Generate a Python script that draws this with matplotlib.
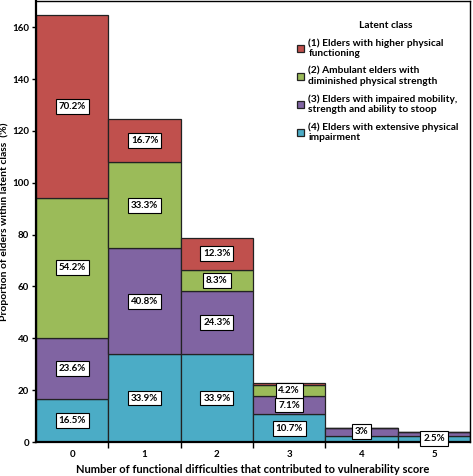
import numpy as np
import matplotlib
matplotlib.use('Agg')
from matplotlib import pyplot as plt

plt.rcParams['font.family'] = ['Lato', 'DejaVu Sans']
plt.rcParams['font.weight'] = 'bold'

cats = ['0', '1', '2', '3', '4', '5']
# latent class shares per number of difficulties (stack order: bottom -> top)
class4 = [16.5, 33.9, 33.9, 10.7, 2.5, 2.5]
class3 = [23.6, 40.8, 24.3, 7.1, 3.0, 1.2]
class2 = [54.2, 33.3, 8.3, 4.2, 0.0, 0.0]
class1 = [70.2, 16.7, 12.3, 0.8, 0.0, 0.0]

# which segments carry a value box
lab4 = ['16.5%', '33.9%', '33.9%', '10.7%', '', '2.5%']
lab3 = ['23.6%', '40.8%', '24.3%', '7.1%', '3%', '']
lab2 = ['54.2%', '33.3%', '8.3%', '4.2%', '', '']
lab1 = ['70.2%', '16.7%', '12.3%', '', '', '']

names = ['(1) Elders with higher physical\nfunctioning',
         '(2) Ambulant elders with\ndiminished physical strength',
         '(3) Elders with impaired mobility,\nstrength and ability to stoop',
         '(4) Elders with extensive physical\nimpairment']
colors = ['#C0504D', '#9BBB59', '#8064A2', '#4BACC6']

fig = plt.figure(figsize=(4.73, 4.76), dpi=100)
ax = fig.add_axes([0.076, 0.0714, 0.918, 0.926])

x = np.arange(len(cats))
series = [class4, class3, class2, class1]
labels = [lab4, lab3, lab2, lab1]
cols = colors[::-1]
nms = names[::-1]
bottom = np.zeros(len(cats))
handles = []
for vals, labs, c, nm in zip(series, labels, cols, nms):
    vals = np.array(vals)
    b = ax.bar(x, vals, 1.0, bottom=bottom, color=c, edgecolor='#222222', linewidth=0.9, label=nm)
    handles.append(b)
    for i in range(len(cats)):
        if labs[i]:
            ax.text(x[i], bottom[i] + vals[i] / 2, labs[i], ha='center', va='center', fontsize=7,
                    fontweight='bold',
                    bbox=dict(boxstyle='square,pad=0.3', fc='white', ec='black', lw=0.8))
    bottom = bottom + vals

ax.set_xlim(-0.5, 5.5)
ax.set_ylim(0, 170)
ax.set_yticks(np.arange(0, 161, 20))
ax.set_xticks(np.arange(0.5, 5.5, 1.0))
ax.set_xticklabels([])
ax.set_xticks(x, minor=True)
ax.set_xticklabels(cats, minor=True)
ax.tick_params(axis='x', which='major', length=4, width=1)
ax.tick_params(axis='x', which='minor', length=0, pad=6, labelsize=7)
ax.tick_params(axis='y', length=3, width=1, labelsize=7, pad=2)
for lb in ax.get_xticklabels(minor=True) + ax.get_yticklabels():
    lb.set_fontweight('bold')

ax.spines['left'].set_linewidth(1.6)
ax.spines['bottom'].set_linewidth(1.6)
ax.spines['top'].set_linewidth(1.0)
ax.spines['right'].set_linewidth(1.0)

ax.set_xlabel('Number of functional difficulties that contributed to vulnerability score',
              fontsize=8, fontweight='bold', labelpad=3)
ax.set_ylabel('Proportion of elders within latent class  (%)', fontsize=7.5, fontweight='bold', labelpad=2)

leg = ax.legend(handles[::-1], names, title='Latent class', loc='upper right',
                bbox_to_anchor=(0.995, 0.975), frameon=False, fontsize=7.3,
                handlelength=0.7, handleheight=0.7, handletextpad=0.4, labelspacing=0.8,
                title_fontproperties={'weight': 'bold', 'size': 7.3})
leg._legend_box.align = 'left'
leg.get_title().set_position((62, 0))

fig.savefig('out.png', dpi=100)
